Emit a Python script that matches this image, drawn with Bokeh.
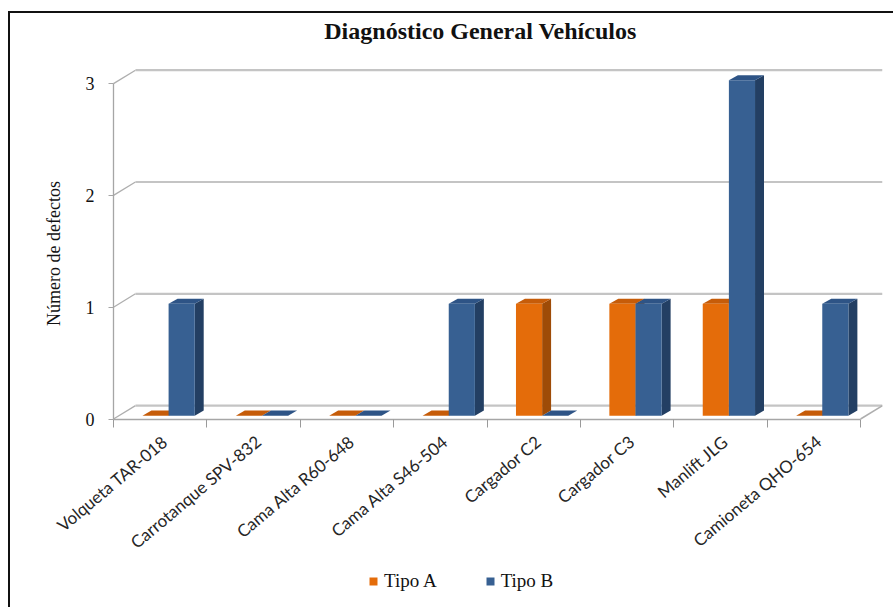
import math
from bokeh.plotting import figure
from bokeh.models import FixedTicker, Legend, LegendItem, Range1d
from bokeh.core.properties import value
from bokeh.embed import file_html
from bokeh.resources import INLINE

# ---------------- data ----------------
categories = [
    "Volqueta TAR-018",
    "Carrotanque SPV-832",
    "Cama Alta R60-648",
    "Cama Alta S46-504",
    "Cargador C2",
    "Cargador C3",
    "Manlift JLG",
    "Camioneta QHO-654",
]
tipo_a = [0, 0, 0, 0, 1, 1, 1, 0]
tipo_b = [1, 0, 0, 1, 0, 1, 3, 1]
y_ticks = [0, 1, 2, 3]
series_names = ["Tipo A", "Tipo B"]
chart_title = "Diagnóstico General Vehículos"
y_title = "Número de defectos"

# ---------------- pseudo-3D geometry (style) ----------------
n = len(categories)
FLOOR_DX, FLOOR_DY = 0.235, 0.12    # depth of floor / walls in data units
BAR_OFF, BAR_W = 0.31, 0.28          # bar placement inside a category
BAR_DX, BAR_DY = 0.096, 0.045        # bar depth
BASE = 0.03                          # bars sit slightly behind the front edge
PX_X = 769 / (n + FLOOR_DX)          # pixels per category unit
PX_Y = 111.8                         # pixels per unit of value
X_MIN = (n + FLOOR_DX) - 864 / PX_X  # frame reaches left to hold the long labels
FRAME_TOP, FRAME_BOTTOM, ZERO = 18, 603, 418.5   # page pixels
Y_MAX = (ZERO - FRAME_TOP) / PX_Y
Y_MIN = -(FRAME_BOTTOM - ZERO) / PX_Y

colors = {
    "Tipo A": {"front": "#E46C0A", "side": "#9E4B07", "top": "#C65C09"},
    "Tipo B": {"front": "#376092", "side": "#233F63", "top": "#2E5486"},
}

p = figure(
    width=885, height=596,
    output_backend="svg", toolbar_location=None,
    x_range=Range1d(X_MIN, n + FLOOR_DX), y_range=Range1d(Y_MIN, Y_MAX),
    min_border_left=8, min_border_right=13, min_border_top=5, min_border_bottom=6,
    background_fill_color="white", border_fill_color="white",
)
p.margin = (13, 0, 0, 10)
p.styles = {"box-shadow": "-2px -2px 0 0 #111111"}
p.outline_line_color = None
p.xgrid.grid_line_color = None
p.ygrid.grid_line_color = None

GRID = "#C4C4C4"
DIAG = "#AEAEAE"

# ---- chart title ----
p.text(x=[(480 - 113) / PX_X], y=[(ZERO - 30) / PX_Y], text=[chart_title],
       text_align="center", text_baseline="middle",
       text_font=value("Liberation Serif"), text_font_style="bold",
       text_font_size="24px", text_color="#111111")

# ---- walls / grid lines (side wall diagonals + back wall) ----
p.segment(x0=[0] * len(y_ticks), y0=y_ticks,
          x1=[FLOOR_DX] * len(y_ticks), y1=[t + FLOOR_DY for t in y_ticks],
          line_color=DIAG, line_width=1.3)
p.segment(x0=[FLOOR_DX] * len(y_ticks), y0=[t + FLOOR_DY for t in y_ticks],
          x1=[n + FLOOR_DX] * len(y_ticks), y1=[t + FLOOR_DY for t in y_ticks],
          line_color=GRID, line_width=2.2)
p.segment(x0=[n], y0=[0], x1=[n + FLOOR_DX], y1=[FLOOR_DY],
          line_color=DIAG, line_width=1.5)

# ---- bars ----
front_renderers = []
for k, (name, vals) in enumerate(zip(series_names, [tipo_a, tipo_b])):
    c = colors[name]
    fx0 = [i + BAR_OFF + k * BAR_W for i in range(n)]
    fx1 = [x + BAR_W for x in fx0]
    top = [BASE + v for v in vals]
    side_xs = [[x1, x1 + BAR_DX, x1 + BAR_DX, x1] for x1 in fx1]
    side_ys = [[BASE, BASE + BAR_DY, t + BAR_DY, t] for t in top]
    top_xs = [[x0, x1, x1 + BAR_DX, x0 + BAR_DX] for x0, x1 in zip(fx0, fx1)]
    top_ys = [[t, t, t + BAR_DY, t + BAR_DY] for t in top]
    p.patches(side_xs, side_ys, fill_color=c["side"], line_color=None)
    p.patches(top_xs, top_ys, fill_color=c["top"], line_color=None)
    r = p.quad(left=fx0, right=fx1, bottom=[BASE] * n, top=top,
               fill_color=c["front"], line_color=None)
    front_renderers.append(r)

# ---- x axis (sits on the floor's front edge, y = 0) ----
xa = p.xaxis[0]
xa.fixed_location = 0
label_pos = [i + 0.55 for i in range(n)]
xa.ticker = FixedTicker(ticks=label_pos, minor_ticks=list(range(n + 1)))
xa.major_label_overrides = {pos: cat for pos, cat in zip(label_pos, categories)}
xa.major_label_orientation = 0.70
xa.bounds = (0, n)
xa.axis_line_color = "#A6A6A6"
xa.axis_line_width = 1.5
xa.major_tick_line_color = None
xa.major_tick_out = 0
xa.major_tick_in = 0
xa.minor_tick_line_color = "#9A9A9A"
xa.minor_tick_out = 8
xa.minor_tick_in = 0
xa.major_label_standoff = 12
xa.major_label_text_font = "Lato"
xa.major_label_text_font_size = "17px"
xa.major_label_text_color = "#262626"

# ---- y axis (front-left edge, x = 0) ----
ya = p.yaxis[0]
ya.fixed_location = 0
ya.ticker = FixedTicker(ticks=y_ticks)
ya.bounds = (0, 3)
ya.axis_line_color = "#A6A6A6"
ya.axis_line_width = 1.3
ya.major_tick_line_color = "#A6A6A6"
ya.major_tick_out = 5
ya.major_tick_in = 0
ya.minor_tick_line_color = None
ya.major_label_standoff = 14
ya.major_label_text_font = "Liberation Serif"
ya.major_label_text_font_size = "18px"
ya.major_label_text_color = "#111111"

# y-axis title, centred on the 0..3 span of the axis
p.text(x=[-60 / PX_X], y=[1.48], text=[y_title], angle=math.pi / 2,
       text_align="center", text_baseline="middle",
       text_font=value("Liberation Serif"), text_font_size="18px",
       text_color="#111111")

# ---- legend ----
legend = Legend(
    items=[LegendItem(label=nm, renderers=[r]) for nm, r in zip(series_names, front_renderers)],
    orientation="horizontal",
    location=(255 + 95, 11),
    glyph_width=10, glyph_height=10, label_standoff=6, spacing=48,
    padding=0, margin=0,
    border_line_color=None, background_fill_alpha=0,
    label_text_font="Liberation Serif", label_text_font_size="19px",
    label_text_color="#111111", label_height=20,
)
p.add_layout(legend)

open("out.html", "w").write(file_html(p, INLINE))
